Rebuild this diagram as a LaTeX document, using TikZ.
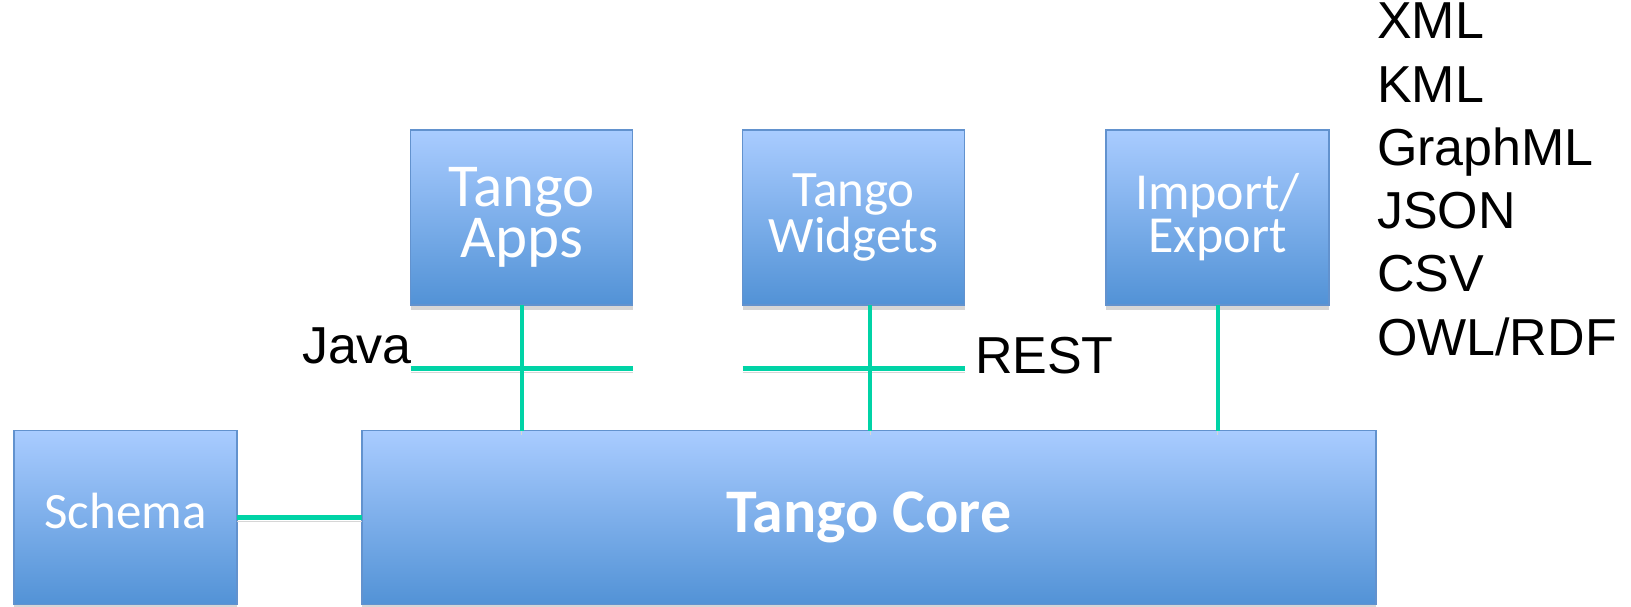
\documentclass[tikz,border=0pt]{standalone}
\usepackage{fontspec}
\setmainfont{Liberation Sans}
\newfontfamily\boxfont{Carlito}
\usetikzlibrary{shadows}
\definecolor{boxtop}{RGB}{169,204,255}
\definecolor{boxbot}{RGB}{82,146,214}
\definecolor{boxedge}{RGB}{98,146,206}
\definecolor{linkgreen}{RGB}{0,211,166}
\definecolor{shadowgray}{RGB}{214,214,214}
\tikzset{
  box/.style={rectangle, draw=boxedge, line width=1.5pt, top color=boxtop, bottom color=boxbot,
    inner sep=0pt, outer sep=0pt, text=white, align=center,
    drop shadow={shadow xshift=0pt, shadow yshift=-5pt, fill=shadowgray, opacity=1}},
  link/.style={draw=linkgreen, line width=4pt,
    preaction={draw=shadowgray, transform canvas={yshift=-4pt}}},
  lbl/.style={inner sep=0pt, outer sep=0pt, text=black, font=\fontsize{52}{52}\selectfont},
}
\begin{document}
\begin{tikzpicture}[x=1pt, y=-1pt]
\useasboundingbox (0,0) rectangle (1631,607);
% boxes
\node[box, minimum width=223pt, minimum height=174pt, text depth=13pt,
  font={\boxfont\fontsize{51}{51}\selectfont}] (schema) at (125.5,517.5) {Schema};
\node[box, minimum width=1014pt, minimum height=174pt,
  font={\boxfont\bfseries\fontsize{62}{62}\selectfont}] (core) at (869,517.5) {Tango Core};
\node[box, minimum width=222pt, minimum height=175pt,
  font={\boxfont\fontsize{61}{47}\selectfont}] (apps) at (521.5,217.5) {Tango\\Apps};
\node[box, minimum width=222pt, minimum height=175pt,
  font={\boxfont\fontsize{51}{38.5}\selectfont}] (widgets) at (853.5,217.5) {Tango\\Widgets};
\node[box, minimum width=223pt, minimum height=175pt,
  font={\boxfont\fontsize{52}{38.5}\selectfont}] (import) at (1217.5,217.5) {Import/\\Export};
% helper coordinates
\coordinate (busY) at (0,368);
\coordinate (wx) at (870,0);
% interface bars
\draw[link, line width=5pt] (apps.west |- busY) -- (apps.east |- busY);
\draw[link, line width=5pt] (widgets.west |- busY) -- (widgets.east |- busY);
% connectors
\draw[link] (apps.south) -- (apps.south |- core.north);
\draw[link] (wx |- widgets.south) -- (wx |- core.north);
\draw[link] (import.south) -- (import.south |- core.north);
\draw[link, line width=5pt] (schema.east) -- (schema.east -| core.west);
% labels
\node[lbl, anchor=base west] (java) at (302,363) {Java};
\node[lbl, anchor=base west] (rest) at (975,373) {REST};
\node[lbl, anchor=base west] (fmt1) at (1377,39) {XML};
\node[lbl, anchor=base west] (fmt2) at (1377,102.2) {KML};
\node[lbl, anchor=base west] (fmt3) at (1377,165.4) {GraphML};
\node[lbl, anchor=base west] (fmt4) at (1377,228.6) {JSON};
\node[lbl, anchor=base west] (fmt5) at (1377,291.8) {CSV};
\node[lbl, anchor=base west] (fmt6) at (1377,355) {OWL/RDF};
\end{tikzpicture}
\end{document}
